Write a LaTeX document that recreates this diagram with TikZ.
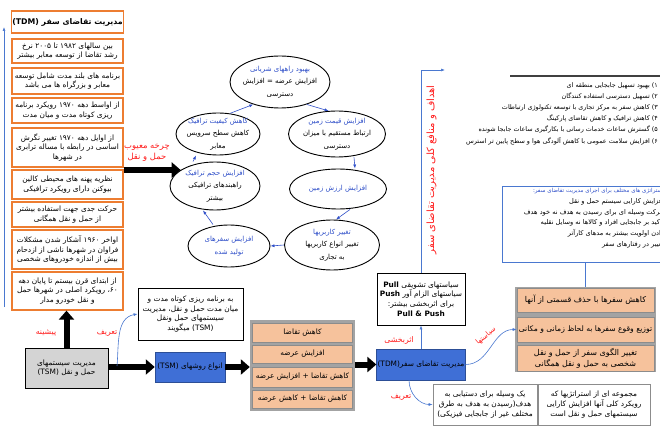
\documentclass[tikz,border=0pt]{standalone}
\usepackage{fontspec}
\usetikzlibrary{arrows.meta,shapes.geometric}
\newfontfamily\arabicfont[Script=Arabic]{DejaVu Sans}
\TeXXeTstate=1
\definecolor{histline}{HTML}{ED7D31}
\definecolor{cycblue}{HTML}{2F4FC8}
\definecolor{linkblue}{HTML}{4A78D0}
\definecolor{boxblue}{HTML}{3F6FD6}
\definecolor{stackfill}{HTML}{F6C29C}
\definecolor{stackgray}{HTML}{8C8C8C}
\definecolor{labelred}{HTML}{FF1A1A}
\definecolor{tsmgray}{HTML}{D4D4D4}
\newcommand{\fa}[1]{\beginR #1\endR}
\newcommand{\faL}[1]{\beginL #1\endL}
\begin{document}
\begin{tikzpicture}[x=1pt,y=1pt,
  txt/.style={font=\arabicfont\fontsize{7.4}{9.6}\selectfont, align=center, inner sep=1pt},
  histbox/.style={txt, draw=histline, line width=1.3pt, fill=white, minimum width=111pt},
  cyc/.style={ellipse, draw, line width=0.9pt, align=center, inner sep=-9pt, font=\arabicfont\fontsize{7}{12.5}\selectfont},
  cycarrow/.style={draw=cycblue, line width=0.6pt, -{Latex[length=4pt,width=3pt]}},
  link/.style={draw=linkblue, line width=0.6pt, -{Latex[length=4pt,width=3pt]}},
  bigarrow/.style={line width=6pt, -{Triangle[length=9pt,width=15pt]}},
  redlab/.style={txt, text=labelred, font=\arabicfont\fontsize{7.8}{10}\selectfont},
  stackitem/.style={txt, fill=stackfill, draw=stackgray, line width=0.6pt},
  bluebox/.style={txt, fill=boxblue, draw=boxblue!70!black, line width=0.5pt},
  plainbox/.style={txt, draw, fill=white, line width=0.8pt}]
  \useasboundingbox (0,0) rectangle (660,-427);
  \clip (0,0) rectangle (660,-427);

  % history column
  \node[histbox, minimum height=22pt, font=\arabicfont\bfseries\fontsize{7.8}{9}\selectfont] (hist1) at (67.5,-22) {\fa{مدیریت تقاضای سفر \faL{(TDM)}}};
  \node[histbox, minimum height=24pt] (hist2) at (67.5,-51) {\fa{بین سالهای ۱۹۸۲ تا ۲۰۰۵ نرخ}\\\fa{رشد تقاضا از توسعه معابر بیشتر}};
  \node[histbox, minimum height=26pt] (hist3) at (67.5,-81) {\fa{برنامه های بلند مدت شامل توسعه}\\\fa{معابر و بزرگراه ها می باشد}};
  \node[histbox, minimum height=25pt] (hist4) at (67.5,-110.5) {\fa{از اواسط دهه ۱۹۷۰ رویکرد برنامه}\\\fa{ریزی کوتاه مدت و میان مدت}};
  \node[histbox, minimum height=39pt] (hist5) at (67.5,-147.5) {\fa{از اوایل دهه ۱۹۷۰ تغییر نگرش}\\\fa{اساسی در رابطه با مساله ترابری}\\\fa{در شهرها}};
  \node[histbox, minimum height=29pt] (hist6) at (67.5,-184.5) {\fa{نظریه پهنه های محیطی کالین}\\\fa{بیوکنن دارای رویکرد ترافیکی}};
  \node[histbox, minimum height=25pt] (hist7) at (67.5,-214.5) {\fa{حرکت جدی جهت استفاده بیشتر}\\\fa{از حمل و نقل همگانی}};
  \node[histbox, minimum height=39pt] (hist8) at (67.5,-249.5) {\fa{اواخر ۱۹۶۰ آشکار شدن مشکلات}\\\fa{فراوان در شهرها ناشی از ازدحام}\\\fa{بیش از اندازه خودروهای شخصی}};
  \node[histbox, minimum height=38pt] (hist9) at (67.5,-291) {\fa{از ابتدای قرن بیستم تا پایان دهه}\\\fa{۶۰، رویکرد اصلی در شهرها حمل}\\\fa{و نقل خودرو مدار}};
  \coordinate (timebot) at (4,-307);
  \coordinate (timetop) at (4,-27);
  \draw[link] (timebot) -- (timetop);

  % TSM part
  \node[txt, draw, fill=tsmgray, line width=0.8pt, minimum width=83pt, minimum height=40pt] (tsm) at (66.5,-368) {\fa{مدیریت سیستمهای}\\\fa{حمل و نقل \faL{(TSM)}}};
  \draw[bigarrow] (tsm.north) -- (tsm.north |- hist9.south);
  \node[redlab] (lab-past) at (46,-333) {\fa{پیشینه}};
  \node[redlab] (lab-def1) at (107,-333) {\fa{تعریف}};
  \node[plainbox, minimum width=105pt, minimum height=52pt] (tsmdef) at (190.5,-314) {\fa{به برنامه ریزی کوتاه مدت و}\\\fa{میان مدت حمل و نقل، مدیریت}\\\fa{سیستمهای حمل ونقل}\\\fa{\faL{(TSM)} میگویند}};
  \node[bluebox, minimum width=70pt, minimum height=30pt] (tsmtypes) at (190,-367) {\fa{انواع روشهای \faL{(TSM)}}};
  \draw[bigarrow] (tsm.east |- tsmtypes.west) -- (tsmtypes.west);
  \coordinate (defstart) at (117,-366);
  \draw[link] (defstart) to[out=85,in=190] (tsmdef.west);

  \node[fill=stackgray!80, minimum width=105pt, minimum height=91pt, inner sep=0pt] (ostack) at (302.5,-365.5) {};
  \node[stackitem, minimum width=100pt, minimum height=19pt] (os1) at (302.5,-332.5) {\fa{کاهش تقاضا}};
  \node[stackitem, minimum width=100pt, minimum height=18pt] (os2) at (302.5,-354) {\fa{افزایش عرضه}};
  \node[stackitem, minimum width=100pt, minimum height=20pt] (os3) at (302.5,-377) {\fa{کاهش تقاضا + افزایش عرضه}};
  \node[stackitem, minimum width=100pt, minimum height=18pt] (os4) at (302.5,-399) {\fa{کاهش تقاضا + کاهش عرضه}};
  \draw[bigarrow] (tsmtypes.east) -- (tsmtypes.east -| ostack.west);

  % TDM part
  \node[bluebox, minimum width=88pt, minimum height=31pt] (tdm) at (421,-364.5) {\fa{مدیریت تقاضای سفر\faL{(TDM)}}};
  \draw[bigarrow] (ostack.east |- tdm.west) -- (tdm.west);
  \node[plainbox, minimum width=88pt, minimum height=52pt] (pull) at (421,-299) {\fa{سیاستهای تشویقی \faL{\textbf{Pull}}}\\\fa{سیاستهای الزام آور \faL{\textbf{Push}}}\\\fa{برای اثربخشی بیشتر:}\\\textbf{Pull \& Push}};
  \draw[link] (tdm.north) -- (pull.south);
  \node[redlab] (lab-eff) at (399,-340) {\fa{اثربخشی}};
  \coordinate (goaltip) at (445,-70);
  \draw[link] (pull.north) |- (goaltip);
  \node[redlab, rotate=90, font=\arabicfont\fontsize{10}{11}\selectfont] (lab-goal) at (431.5,-170) {\fa{اهداف و منافع کلی مدیریت تقاضای سفر}};

  % goals
  \draw[black!75, line width=1.2pt] (510,-76) -- (660,-76);
  \node[txt, anchor=north east, align=right, font=\arabicfont\fontsize{6.4}{11.2}\selectfont] (goals) at (659,-81) {\fa{۱) بهبود تسهیل جابجایی منطقه ای}\\\fa{۲) تسهیل دسترسی استفاده کنندگان}\\\fa{۳) کاهش سفر به مرکز تجاری با توسعه تکنولوژی ارتباطات}\\\fa{۴) کاهش ترافیک و کاهش تقاضای پارکینگ}\\\fa{۵) گسترش ساعات خدمات رسانی با بکارگیری ساعات جابجا شونده}\\\fa{۶) افزایش سلامت عمومی با کاهش آلودگی هوا و سطح پایین تر استرس}};

  % strategies
  \node[draw=linkblue, line width=0.9pt, minimum width=180pt, minimum height=76pt] (strat) at (592,-224) {};
  \node[txt, anchor=north east, align=right, font=\arabicfont\fontsize{6.6}{10.8}\selectfont] (strattext) at (665,-187) {\textcolor{cycblue}{\fontsize{5.6}{9}\selectfont\fa{استراتژی های مختلف برای اجرای مدیریت تقاضای سفر:}}\\\fa{افزایش کارایی سیستم حمل و نقل}\\\fa{حرکت وسیله ای برای رسیدن به هدف نه خود هدف}\\\fa{تاکید بر جابجایی افراد و کالاها نه وسایل نقلیه}\\\fa{دادن اولویت بیشتر به مدهای کارآتر}\\\fa{تغییر در رفتارهای سفر}};

  \node[fill=stackgray!80, minimum width=141pt, minimum height=85pt, inner sep=0pt] (rstack) at (585.5,-329.5) {};
  \node[stackitem, font=\arabicfont\fontsize{8}{10.5}\selectfont, minimum width=137pt, minimum height=24pt] (rs1) at (585.5,-300) {\fa{کاهش سفرها با حذف قسمتی از آنها}};
  \node[stackitem, font=\arabicfont\fontsize{7.6}{10.5}\selectfont, minimum width=137pt, minimum height=25pt] (rs2) at (585.5,-329.5) {\fa{توزیع وقوع سفرها به لحاظ زمانی و مکانی}};
  \node[stackitem, font=\arabicfont\fontsize{8}{10.5}\selectfont, minimum width=137pt, minimum height=26pt] (rs3) at (585.5,-358.5) {\fa{تغییر الگوی سفر از حمل و نقل}\\\fa{شخصی به حمل و نقل همگانی}};
  \draw[draw=linkblue, line width=0.6pt] (rstack.north |- strat.south) -- (rstack.north);
  \draw[link] (tdm.east) to[out=0,in=180] (rs2.west);
  \node[redlab, rotate=40, inner sep=0pt, font=\arabicfont\fontsize{7}{9}\selectfont] (lab-pol) at (486,-336) {\fa{سیاستها}};

  \node[plainbox, draw=black!45, minimum width=104pt, minimum height=41pt] (defa) at (485,-404.5) {\fa{یک وسیله برای دستیابی به}\\\fa{هدف(رسیدن به هدف به طرق}\\\fa{مختلف غیر از جابجایی فیزیکی)}};
  \node[plainbox, draw=black!45, minimum width=112pt, minimum height=41pt] (defb) at (594,-404.5) {\fa{مجموعه ای از استراتژیها که}\\\fa{رویکرد کلی آنها افزایش کارایی}\\\fa{سیستمهای حمل و نقل است}};
  \draw[link] ([xshift=-12pt]tdm.south) to[out=-90,in=180] (defa.west);
  \node[redlab] (lab-def2) at (401,-397) {\fa{تعریف}};

  % vicious cycle
  \node[cyc, minimum width=100pt, minimum height=52pt] (e1) at (280,-82) {\textcolor{cycblue}{\fa{بهبود راههای شریانی}}\\\fa{افزایش عرضه = افزایش}\\\fa{دسترسی}};
  \node[cyc, minimum width=97pt, minimum height=46pt] (e2) at (337,-134) {\textcolor{cycblue}{\fa{افزایش قیمت زمین}}\\\fa{ارتباط مستقیم با میزان}\\\fa{دسترسی}};
  \node[cyc, minimum width=97pt, minimum height=40pt] (e3) at (338,-189) {\textcolor{cycblue}{\fa{افزایش ارزش زمین}}};
  \node[cyc, minimum width=95pt, minimum height=50pt] (e4) at (332,-245) {\textcolor{cycblue}{\fa{تغییر کاربریها}}\\\fa{تغییر انواع کاربریها}\\\fa{به تجاری}};
  \node[cyc, minimum width=82pt, minimum height=42pt] (e5) at (229,-246) {\textcolor{cycblue}{\fa{افزایش سفرهای}}\\\textcolor{cycblue}{\fa{تولید شده}}};
  \node[cyc, minimum width=90pt, minimum height=48pt] (e6) at (215,-186) {\textcolor{cycblue}{\fa{افزایش حجم ترافیک}}\\\fa{راهبندهای ترافیکی}\\\fa{بیشتر}};
  \node[cyc, minimum width=84pt, minimum height=42pt] (e7) at (218,-134) {\textcolor{cycblue}{\fa{کاهش کیفیت ترافیک}}\\\fa{کاهش سطح سرویس}\\\fa{معابر}};
  \draw[cycarrow] (e1.-40) -- (e2.110);
  \draw[cycarrow] ([xshift=17pt]e2.south) -- ([xshift=17pt]e3.north);
  \draw[cycarrow] ([xshift=12pt]e3.south) -- ([xshift=4pt]e4.north);
  \draw[cycarrow] (e4.west) -- (e5.east);
  \draw[cycarrow] ([xshift=-16pt]e5.north) -- ([xshift=-12pt]e6.south);
  \draw[cycarrow] ([xshift=-22pt]e6.north) -- ([xshift=-22pt]e7.south);
  \draw[cycarrow] (e7.60) -- (e1.-140);
  \draw[bigarrow] (e6.155 -| hist5.east) -- (e6.155);
  \node[redlab, font=\arabicfont\fontsize{8.4}{10.5}\selectfont] (lab-cycle) at (147,-153) {\fa{چرخه معیوب}\\\fa{حمل و نقل}};
\end{tikzpicture}
\end{document}
